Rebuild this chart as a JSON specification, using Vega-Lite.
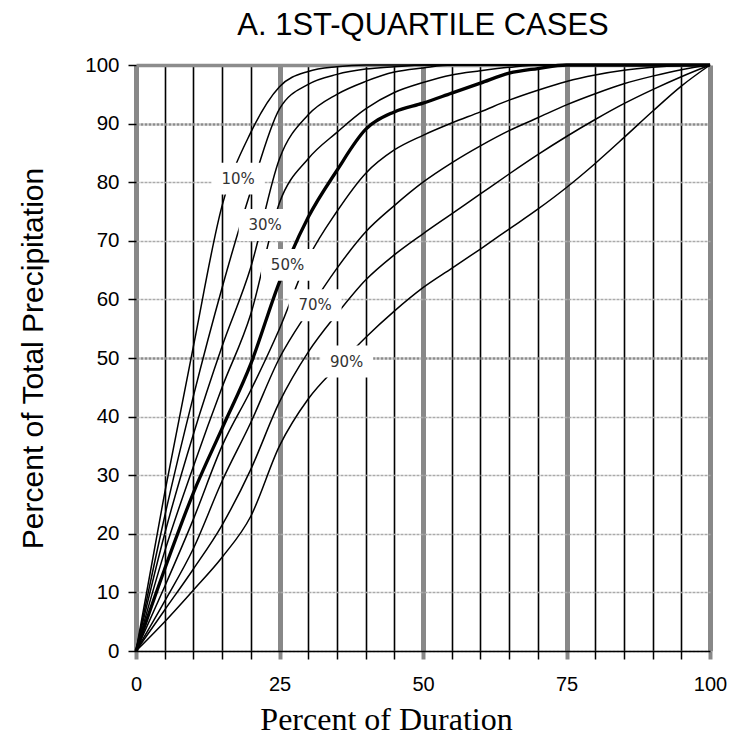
{
  "$schema": "https://vega.github.io/schema/vega-lite/v6.json",
  "width": 574,
  "height": 586,
  "autosize": {"type": "none"},
  "padding": {"left": 136, "top": 65, "right": 24, "bottom": 92},
  "background": "white",
  "config": {"view": {"stroke": null}},
  "title": {"text": "A.  1ST-QUARTILE CASES", "font": "Liberation Sans", "fontSize": 31, "fontWeight": "normal", "color": "black", "offset": 13, "anchor": "middle"},
  "datasets": {
    "curves": [
      {"p": "10%", "x": 0, "y": 0}, {"p": "10%", "x": 5, "y": 27}, {"p": "10%", "x": 10, "y": 52}, {"p": "10%", "x": 15, "y": 76}, {"p": "10%", "x": 20, "y": 88.5}, {"p": "10%", "x": 25, "y": 96.3}, {"p": "10%", "x": 30, "y": 98.9}, {"p": "10%", "x": 35, "y": 99.7}, {"p": "10%", "x": 40, "y": 100}, {"p": "10%", "x": 70, "y": 100}, {"p": "10%", "x": 100, "y": 100},
      {"p": "20%", "x": 0, "y": 0}, {"p": "20%", "x": 5, "y": 23}, {"p": "20%", "x": 10, "y": 43.5}, {"p": "20%", "x": 15, "y": 62}, {"p": "20%", "x": 20, "y": 78.5}, {"p": "20%", "x": 25, "y": 92.5}, {"p": "20%", "x": 30, "y": 96.7}, {"p": "20%", "x": 35, "y": 98.4}, {"p": "20%", "x": 40, "y": 99.3}, {"p": "20%", "x": 45, "y": 99.7}, {"p": "20%", "x": 50, "y": 100}, {"p": "20%", "x": 100, "y": 100},
      {"p": "30%", "x": 0, "y": 0}, {"p": "30%", "x": 5, "y": 20}, {"p": "30%", "x": 10, "y": 37}, {"p": "30%", "x": 15, "y": 52}, {"p": "30%", "x": 20, "y": 65.5}, {"p": "30%", "x": 25, "y": 84}, {"p": "30%", "x": 30, "y": 91.5}, {"p": "30%", "x": 35, "y": 95}, {"p": "30%", "x": 40, "y": 97.2}, {"p": "30%", "x": 45, "y": 98.8}, {"p": "30%", "x": 50, "y": 99.5}, {"p": "30%", "x": 55, "y": 100}, {"p": "30%", "x": 100, "y": 100},
      {"p": "40%", "x": 0, "y": 0}, {"p": "40%", "x": 5, "y": 17}, {"p": "40%", "x": 10, "y": 31.5}, {"p": "40%", "x": 15, "y": 45}, {"p": "40%", "x": 20, "y": 57.5}, {"p": "40%", "x": 25, "y": 76.5}, {"p": "40%", "x": 30, "y": 84}, {"p": "40%", "x": 35, "y": 88.5}, {"p": "40%", "x": 40, "y": 92.5}, {"p": "40%", "x": 45, "y": 95.3}, {"p": "40%", "x": 50, "y": 97}, {"p": "40%", "x": 55, "y": 98.3}, {"p": "40%", "x": 60, "y": 99}, {"p": "40%", "x": 65, "y": 99.6}, {"p": "40%", "x": 70, "y": 100}, {"p": "40%", "x": 100, "y": 100},
      {"p": "50%", "x": 0, "y": 0}, {"p": "50%", "x": 5, "y": 14}, {"p": "50%", "x": 10, "y": 27}, {"p": "50%", "x": 15, "y": 38}, {"p": "50%", "x": 20, "y": 49}, {"p": "50%", "x": 25, "y": 63}, {"p": "50%", "x": 30, "y": 74}, {"p": "50%", "x": 35, "y": 82}, {"p": "50%", "x": 40, "y": 89}, {"p": "50%", "x": 45, "y": 92}, {"p": "50%", "x": 50, "y": 93.5}, {"p": "50%", "x": 55, "y": 95.2}, {"p": "50%", "x": 60, "y": 96.9}, {"p": "50%", "x": 65, "y": 98.6}, {"p": "50%", "x": 70, "y": 99.4}, {"p": "50%", "x": 75, "y": 100}, {"p": "50%", "x": 100, "y": 100},
      {"p": "60%", "x": 0, "y": 0}, {"p": "60%", "x": 5, "y": 11}, {"p": "60%", "x": 10, "y": 22.5}, {"p": "60%", "x": 15, "y": 35}, {"p": "60%", "x": 20, "y": 44.5}, {"p": "60%", "x": 25, "y": 55}, {"p": "60%", "x": 30, "y": 67}, {"p": "60%", "x": 35, "y": 75}, {"p": "60%", "x": 40, "y": 81.5}, {"p": "60%", "x": 45, "y": 85.5}, {"p": "60%", "x": 50, "y": 88}, {"p": "60%", "x": 55, "y": 90.1}, {"p": "60%", "x": 60, "y": 92}, {"p": "60%", "x": 65, "y": 94}, {"p": "60%", "x": 70, "y": 95.7}, {"p": "60%", "x": 75, "y": 97.2}, {"p": "60%", "x": 80, "y": 98.3}, {"p": "60%", "x": 85, "y": 99.1}, {"p": "60%", "x": 90, "y": 99.6}, {"p": "60%", "x": 95, "y": 99.9}, {"p": "60%", "x": 100, "y": 100},
      {"p": "70%", "x": 0, "y": 0}, {"p": "70%", "x": 5, "y": 8.5}, {"p": "70%", "x": 10, "y": 17.5}, {"p": "70%", "x": 15, "y": 29}, {"p": "70%", "x": 20, "y": 39}, {"p": "70%", "x": 25, "y": 50}, {"p": "70%", "x": 30, "y": 58}, {"p": "70%", "x": 35, "y": 65.3}, {"p": "70%", "x": 40, "y": 71.5}, {"p": "70%", "x": 45, "y": 76}, {"p": "70%", "x": 50, "y": 80}, {"p": "70%", "x": 55, "y": 83.3}, {"p": "70%", "x": 60, "y": 86.2}, {"p": "70%", "x": 65, "y": 88.8}, {"p": "70%", "x": 70, "y": 91}, {"p": "70%", "x": 75, "y": 93.2}, {"p": "70%", "x": 80, "y": 95.1}, {"p": "70%", "x": 85, "y": 96.8}, {"p": "70%", "x": 90, "y": 98.1}, {"p": "70%", "x": 95, "y": 99.2}, {"p": "70%", "x": 100, "y": 100},
      {"p": "80%", "x": 0, "y": 0}, {"p": "80%", "x": 5, "y": 7}, {"p": "80%", "x": 10, "y": 14}, {"p": "80%", "x": 15, "y": 21.5}, {"p": "80%", "x": 20, "y": 31}, {"p": "80%", "x": 25, "y": 42.5}, {"p": "80%", "x": 30, "y": 51}, {"p": "80%", "x": 35, "y": 57.5}, {"p": "80%", "x": 40, "y": 63.3}, {"p": "80%", "x": 45, "y": 67.6}, {"p": "80%", "x": 50, "y": 71.2}, {"p": "80%", "x": 55, "y": 74.6}, {"p": "80%", "x": 60, "y": 78}, {"p": "80%", "x": 65, "y": 81.4}, {"p": "80%", "x": 70, "y": 84.7}, {"p": "80%", "x": 75, "y": 87.8}, {"p": "80%", "x": 80, "y": 90.7}, {"p": "80%", "x": 85, "y": 93.4}, {"p": "80%", "x": 90, "y": 95.8}, {"p": "80%", "x": 95, "y": 98}, {"p": "80%", "x": 100, "y": 100},
      {"p": "90%", "x": 0, "y": 0}, {"p": "90%", "x": 5, "y": 5}, {"p": "90%", "x": 10, "y": 10.4}, {"p": "90%", "x": 15, "y": 16}, {"p": "90%", "x": 20, "y": 23}, {"p": "90%", "x": 25, "y": 35}, {"p": "90%", "x": 30, "y": 43}, {"p": "90%", "x": 35, "y": 48.5}, {"p": "90%", "x": 40, "y": 53.5}, {"p": "90%", "x": 45, "y": 58}, {"p": "90%", "x": 50, "y": 62}, {"p": "90%", "x": 55, "y": 65.3}, {"p": "90%", "x": 60, "y": 68.6}, {"p": "90%", "x": 65, "y": 72}, {"p": "90%", "x": 70, "y": 75.4}, {"p": "90%", "x": 75, "y": 79.1}, {"p": "90%", "x": 80, "y": 83.2}, {"p": "90%", "x": 85, "y": 87.6}, {"p": "90%", "x": 90, "y": 92.1}, {"p": "90%", "x": 95, "y": 96.4}, {"p": "90%", "x": 100, "y": 100}
    ],
    "labels": [
      {"p": "10%", "x": 17.8, "y": 80.6},
      {"p": "30%", "x": 22.5, "y": 72.7},
      {"p": "50%", "x": 26.4, "y": 65.9},
      {"p": "70%", "x": 31.2, "y": 59.0},
      {"p": "90%", "x": 36.7, "y": 49.4}
    ]
  },
  "encoding": {
    "x": {
      "field": "x", "type": "quantitative",
      "scale": {"domain": [0, 100], "nice": false, "zero": false},
      "axis": {
        "values": [0, 5, 10, 15, 20, 25, 30, 35, 40, 45, 50, 55, 60, 65, 70, 75, 80, 85, 90, 95, 100],
        "labelExpr": "datum.value % 25 === 0 ? datum.label : ''",
        "labelFlush": false, "labelOverlap": false,
        "labelFont": "Liberation Sans", "labelFontSize": 20, "labelColor": "black", "labelPadding": 15,
        "tickSize": 8,
        "tickColor": {"condition": {"test": "datum.value % 25 === 0", "value": "#888888"}, "value": "black"},
        "tickWidth": {"condition": {"test": "datum.value % 25 === 0", "value": 4}, "value": 1.5},
        "domainColor": "black", "domainWidth": 1.5,
        "grid": true,
        "gridColor": {"condition": {"test": "datum.value % 25 === 0", "value": "#888888"}, "value": "black"},
        "gridWidth": {"condition": {"test": "datum.value % 25 === 0", "value": 5}, "value": 1.6},
        "gridOpacity": 1,
        "title": "Percent of Duration",
        "titleFont": "Liberation Serif", "titleFontSize": 32, "titleFontWeight": "normal", "titleColor": "black",
        "titleX": 250, "titleY": 78, "titleBaseline": "alphabetic", "titleAlign": "center"
      }
    },
    "y": {
      "field": "y", "type": "quantitative",
      "scale": {"domain": [0, 100], "nice": false, "zero": false},
      "axis": {
        "values": [0, 10, 20, 30, 40, 50, 60, 70, 80, 90, 100],
        "domain": false,
        "labelFont": "Liberation Sans", "labelFontSize": 20.5, "labelColor": "black", "labelPadding": 9,
        "tickSize": 8, "tickColor": "black", "tickWidth": 1.5,
        "grid": true,
        "gridColor": {"condition": {"test": "datum.value === 50 || datum.value === 90 || datum.value === 100", "value": "#8c8c8c"}, "value": "#aaaaaa"},
        "gridWidth": {"condition": [{"test": "datum.value === 100", "value": 3.5}, {"test": "datum.value === 50 || datum.value === 90", "value": 2.5}], "value": 1.3},
        "gridDash": {"condition": {"test": "datum.value === 100", "value": []}, "value": [3, 1]},
        "gridOpacity": 1,
        "title": "Percent of Total Precipitation",
        "titleFont": "Liberation Sans", "titleFontSize": 30, "titleFontWeight": "normal", "titleColor": "black",
        "titleX": -94, "titleBaseline": "alphabetic"
      }
    }
  },
  "layer": [
    {
      "data": {"name": "curves"},
      "mark": {"type": "line", "color": "black", "interpolate": "monotone"},
      "encoding": {
        "detail": {"field": "p", "type": "nominal"},
        "strokeWidth": {"condition": {"test": "datum.p === '50%'", "value": 3.3}, "value": 1.5}
      }
    },
    {
      "data": {"name": "labels"},
      "mark": {"type": "point", "shape": "M-1,-0.6L1,-0.6L1,0.6L-1,0.6Z", "filled": true, "color": "white", "opacity": 1, "size": 2809, "strokeWidth": 0}
    },
    {
      "data": {"name": "labels"},
      "mark": {"type": "text", "font": "DejaVu Sans", "fontSize": 15, "color": "#333333"},
      "encoding": {"text": {"field": "p", "type": "nominal"}}
    }
  ]
}
